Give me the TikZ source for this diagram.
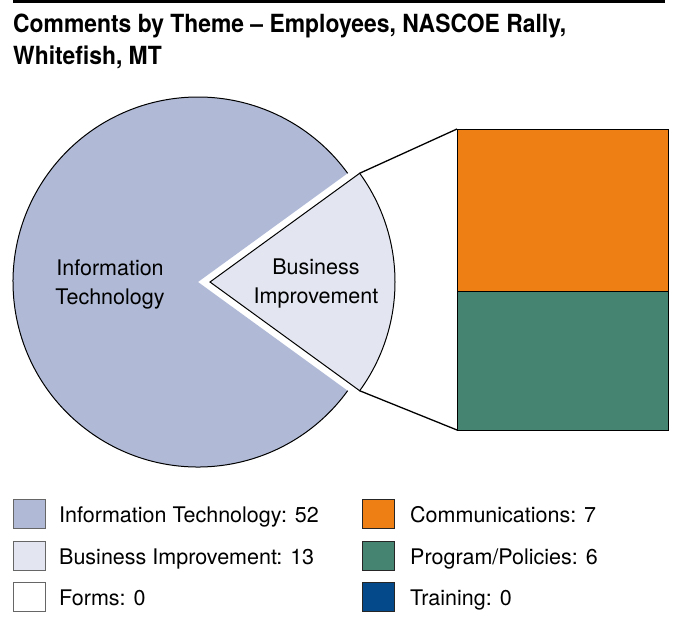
\documentclass[tikz,border=0pt]{standalone}
\usepackage{fontspec}
\setmainfont{TeX Gyre Heros}
\newfontfamily\titlefont{TeX Gyre Heros}[FakeStretch=0.915]
\definecolor{itcol}{HTML}{B0BAD6}
\definecolor{bicol}{HTML}{E3E6F0}
\definecolor{commcol}{HTML}{EE7F14}
\definecolor{progcol}{HTML}{448470}
\definecolor{traincol}{HTML}{044A8A}
\tikzset{
  legbox/.style={draw=black!60, line width=1pt, minimum width=32pt, minimum height=29pt, inner sep=0pt},
  legtext/.style={anchor=base west, inner sep=0pt, font=\fontsize{21.5}{26}\selectfont},
  pietext/.style={align=center, inner sep=0pt, font=\fontsize{21.5}{29}\selectfont}
}
\begin{document}
\begin{tikzpicture}[x=1pt, y=-1pt]
                    \useasboundingbox (0,0) rectangle (677,626);
                    \draw[line width=3pt] (13,1.5) -- (665,1.5);

                    \node[anchor=base west, inner sep=0pt, font=\titlefont\bfseries\fontsize{25}{30}\selectfont] (title1) at (13,32.5) {Comments by Theme – Employees, NASCOE Rally,};
                    \node[anchor=base west, inner sep=0pt, font=\titlefont\bfseries\fontsize{25}{30}\selectfont] (title2) at (13,64.5) {Whitefish, MT};

                    \fill[itcol] (198,282) -- ++(36:185) arc[start angle=36, end angle=324, radius=185] -- cycle;
                    \draw[line width=1pt] (198,282) ++(36:185) arc[start angle=36, end angle=324, radius=185];
                    \draw[line width=1pt, fill=bicol] (210,282) -- ++(-36:185) arc[start angle=-36, end angle=36, radius=185] -- cycle;

                    \path (210,282) ++(-36:185) coordinate (bitop);
                    \path (210,282) ++(36:185) coordinate (bibot);

                    \draw[line width=1pt, fill=commcol] (457,129) rectangle (668,291);
                    \draw[line width=1pt, fill=progcol] (457,291) rectangle (668,430);
                    \coordinate (bartop) at (457,129);
                    \coordinate (barbot) at (457,430);

                    \draw[line width=1.3pt] (bitop) -- (bartop);
                    \draw[line width=1.3pt] (bibot) -- (barbot);

                    \node[pietext] (itlabel) at (110,284) {Information\\Technology};
                    \node[pietext] (bilabel) at (316,284) {Business\\Improvement};

                    \node[legbox, fill=itcol] (itbox) at (29.5,513.5) {};
                    \node[legbox, fill=bicol] (bibox) at (29.5,555.5) {};
                    \node[legbox, fill=white] (formbox) at (29.5,597) {};
                    \node[legbox, draw=black!85, fill=commcol] (commbox) at (378,513.5) {};
                    \node[legbox, draw=black!85, fill=progcol] (progbox) at (378,555.5) {};
                    \node[legbox, draw=black!85, fill=traincol] (trainbox) at (378,597) {};

                    \node[legtext] (ittext) at (59,522) {Information Technology: 52};
                    \node[legtext] (bitext) at (59,564) {Business Improvement: 13};
                    \node[legtext] (formtext) at (59,605.5) {Forms: 0};
                    \node[legtext] (commtext) at (410,522) {Communications: 7};
                    \node[legtext] (progtext) at (410,564) {Program/Policies: 6};
                    \node[legtext] (traintext) at (410,605.5) {Training: 0};
                \end{tikzpicture}
\end{document}
